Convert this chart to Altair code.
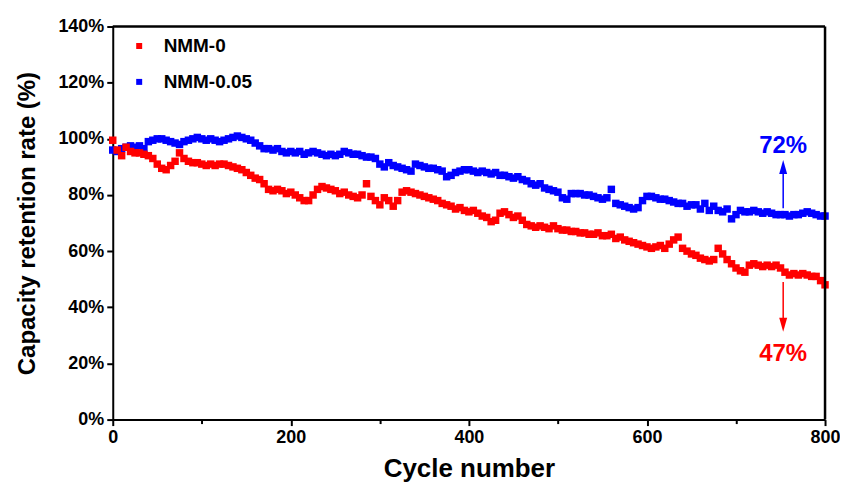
import altair as alt
import pandas as pd

cycles = list(range(0, 801, 5))

nmm0 = [
    99.5, 96, 94, 97, 95.5, 95, 95, 94.5, 94, 93,
    91, 89.5, 89, 90.5, 92, 95, 93, 92, 91.5, 91.5,
    91, 90.5, 91, 90.5, 91, 91, 90.5, 90, 89.5, 89,
    88, 87, 86, 85.5, 84, 82, 81.5, 82, 81.5, 80.5,
    81, 80, 79, 78, 78, 80, 82, 83, 82.5, 82,
    81.5, 80.5, 81, 80, 79.5, 79, 80, 84, 79.5, 78,
    76.5, 79, 78, 76, 78, 81, 81.5, 81, 80.5, 80,
    79.5, 79, 78.5, 78, 77, 76.5, 76, 75, 75.5, 74.5,
    74, 74.5, 73.5, 72.5, 72, 70.5, 71, 73.5, 74, 73,
    72, 72.5, 71, 69.5, 69, 68.5, 69, 68.5, 68, 69,
    68, 67.5, 67.5, 67, 67, 66.5, 66.5, 66, 66, 66.5,
    65.5, 65.5, 66, 64.5, 65, 64, 63.5, 63, 62.5, 62,
    61.5, 61, 61.5, 62, 61, 62.5, 64, 65, 61, 60,
    59, 58.5, 57.5, 57, 56.5, 57, 61, 59, 57, 55.5,
    54, 53, 52.5, 55, 55.5, 55, 54.5, 55, 54.5, 55,
    54, 52.5, 51.5, 52, 51.5, 52, 51.5, 51, 51, 49.5,
    48,
]

nmm005 = [
    96, 95.5, 96.5, 97, 97.5, 97, 97.5, 96.5, 99, 99.5,
    100, 100, 99.5, 99, 98.5, 98, 99, 99.5, 100, 100.5,
    100, 99.5, 100, 99.5, 99, 99.5, 100, 100.5, 101, 100.5,
    100, 99.5, 98.5, 97.5, 96.5, 96.5, 96, 96.5, 95.5, 95,
    95.5, 95, 95.5, 94.5, 95, 95.5, 95, 94.5, 94, 94.5,
    94, 94.5, 95.5, 95, 94.5, 94.5, 94, 93.5, 93.5, 93,
    91, 90, 91.5, 90.5, 90, 89.5, 89, 88.5, 91, 90.5,
    90, 89.5, 89.5, 89, 88.5, 86.5, 87, 88, 88.5, 89,
    89, 88.5, 88, 88.5, 88, 87.5, 88, 87, 87, 86.5,
    86, 86.5, 85.5, 85, 84, 83.5, 84, 82.5, 82, 81.5,
    81, 79, 78.5, 80.5, 80.5, 80.5, 80, 80, 79.5, 79,
    78.5, 79, 82, 77, 76.5, 76, 75.5, 75, 75.5, 78,
    79.5, 79.5, 79, 78.5, 78.5, 78, 77.5, 77, 77, 76,
    76.5, 76.5, 75, 77, 74.5, 76, 74.5, 74, 75, 71.5,
    73, 74.5, 74, 74, 74.5, 74, 73.5, 74, 73.5, 73,
    73, 73, 72.5, 73, 73, 73.5, 74, 73.5, 73, 72.5,
    72.5,
]

series_names = ["NMM-0", "NMM-0.05"]
series_colors = ["#FF0000", "#0000FF"]

ann_labels = ["72%", "47%"]
ann_cycle = [753, 753]
ann_label_y = [97.5, 23.5]
arrow_start = [75.3, 49]
arrow_end = [88, 36]
arrow_tip = [90, 33.8]
arrow_shape = ["M-0.57,1L0,-1L0.57,1Z", "M-0.57,-1L0,1L0.57,-1Z"]
ann_colors = ["#0000FF", "#FF0000"]

x_domain = [0, 800]
y_domain = [0, 140]

df = pd.concat([
    pd.DataFrame({"cycle": cycles, "retention": nmm005, "sample": "NMM-0.05"}),
    pd.DataFrame({"cycle": cycles, "retention": nmm0, "sample": "NMM-0"}),
], ignore_index=True)

ann = pd.DataFrame({
    "label": ann_labels, "cycle": ann_cycle, "ly": ann_label_y,
    "y1": arrow_start, "y2": arrow_end, "tip": arrow_tip,
    "shape": arrow_shape, "color": ann_colors,
})

FONT = "Liberation Sans"

xscale = alt.Scale(domain=x_domain, nice=False, zero=False)
yscale = alt.Scale(domain=y_domain, nice=False)

xaxis = alt.Axis(
    values=list(range(0, 801, 100)),
    labelExpr="datum.value % 200 === 0 ? datum.label : ''",
    tickSize={"condition": {"test": "datum.value % 200 === 0", "value": 6}, "value": 4},
    title="Cycle number", grid=False,
    labelFontSize=18, labelFont=FONT, labelFontWeight="bold", labelColor="black",
    titleFontSize=26, titleFont=FONT, titleFontWeight="bold", titleColor="black",
    titlePadding=9, labelPadding=3,
    domainColor="black", domainWidth=2, tickColor="black", tickWidth=2,
    labelFlush=False,
)
yaxis = alt.Axis(
    values=list(range(0, 141, 10)),
    labelExpr="datum.value % 20 === 0 ? datum.value + '%' : ''",
    tickSize={"condition": {"test": "datum.value % 20 === 0", "value": 6}, "value": 4},
    title="Capacity retention rate (%)", grid=False,
    labelFontSize=18, labelFont=FONT, labelFontWeight="bold", labelColor="black",
    titleFontSize=24, titleFont=FONT, titleFontWeight="bold", titleColor="black",
    titlePadding=18, labelPadding=3,
    domainColor="black", domainWidth=2, tickColor="black", tickWidth=2,
)

points = alt.Chart(df).mark_square(size=56, opacity=1).encode(
    x=alt.X("cycle:Q", scale=xscale, axis=xaxis),
    y=alt.Y("retention:Q", scale=yscale, axis=yaxis),
    color=alt.Color(
        "sample:N",
        scale=alt.Scale(domain=series_names, range=series_colors),
        legend=alt.Legend(
            title=None, orient="none", legendX=17, legendY=10,
            symbolType="square", symbolSize=36, symbolStrokeWidth=0,
            labelFontSize=19, labelFont=FONT, labelFontWeight="bold", labelColor="black",
            rowPadding=16, labelOffset=15,
        ),
    ),
)

top_edge = alt.Chart().mark_rule(color="black", strokeWidth=2.5).encode(
    x=alt.datum(x_domain[0]), x2=alt.datum(x_domain[1]), y=alt.datum(y_domain[1]),
)
right_edge = alt.Chart().mark_rule(color="black", strokeWidth=2.5).encode(
    x=alt.datum(x_domain[1]), y=alt.datum(y_domain[0]), y2=alt.datum(y_domain[1]),
)

rules = alt.Chart(ann).mark_rule(strokeWidth=1.5).encode(
    x="cycle:Q", y="y1:Q", y2="y2:Q",
    color=alt.Color("color:N", scale=None),
)
heads = alt.Chart(ann).mark_point(filled=True, opacity=1, size=196).encode(
    x="cycle:Q", y="tip:Q",
    shape=alt.Shape("shape:N", scale=None),
    color=alt.Color("color:N", scale=None),
)
texts = alt.Chart(ann).mark_text(fontSize=24, font=FONT, fontWeight="bold").encode(
    x="cycle:Q", y="ly:Q", text="label:N",
    color=alt.Color("color:N", scale=None),
)

chart = alt.layer(points, top_edge, right_edge, rules, heads, texts).properties(
    width=714, height=394,
    autosize=alt.AutoSizeParams(type="none"),
    padding={"left": 105, "top": 18, "right": 15, "bottom": 65},
    background="white",
).configure_view(
    strokeWidth=0,
)

chart.save("out.html", embed_options={"renderer": "svg", "actions": False})
